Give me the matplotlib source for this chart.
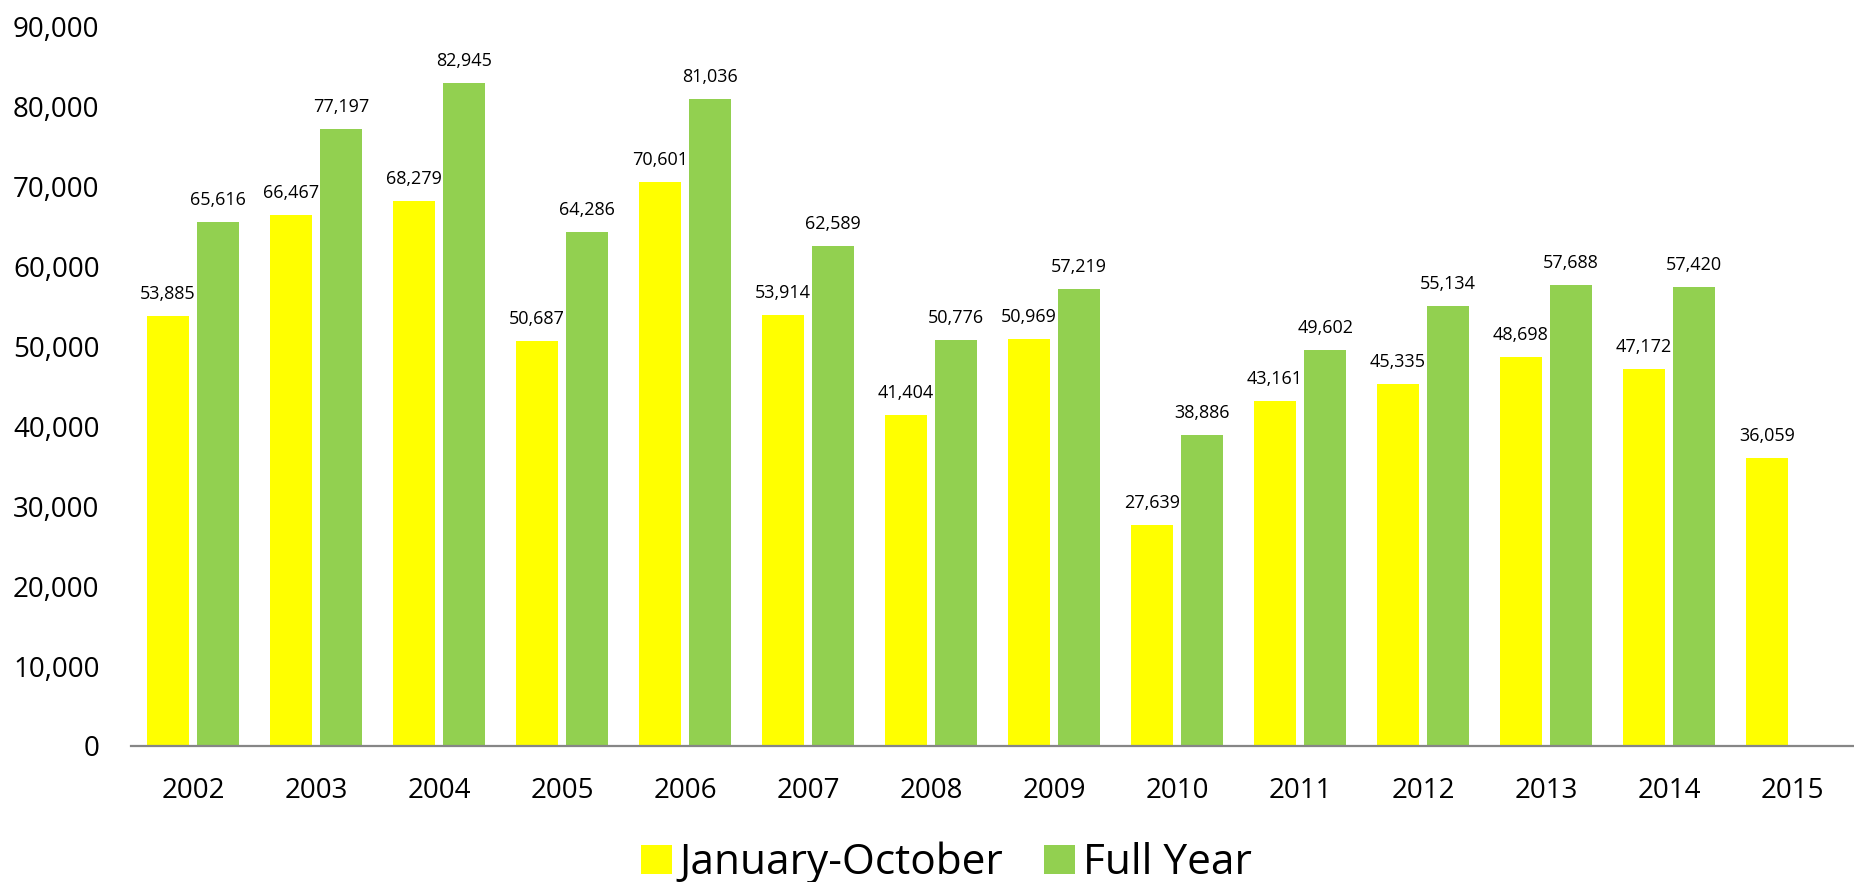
import matplotlib
matplotlib.use("Agg")
import matplotlib.pyplot as plt
import numpy as np

years = ["2002", "2003", "2004", "2005", "2006", "2007", "2008", "2009",
         "2010", "2011", "2012", "2013", "2014", "2015"]
jan_oct = [53885, 66467, 68279, 50687, 70601, 53914, 41404, 50969,
           27639, 43161, 45335, 48698, 47172, 36059]
full_year = [65616, 77197, 82945, 64286, 81036, 62589, 50776, 57219,
             38886, 49602, 55134, 57688, 57420]
y_ticks = [0, 10000, 20000, 30000, 40000, 50000, 60000, 70000, 80000, 90000]

plt.rcParams['font.family'] = ['Open Sans', 'DejaVu Sans']

fig = plt.figure(figsize=(18.54, 8.82), dpi=100)
ax = fig.add_axes([0.0709, 0.1542, 0.9288, 0.8152])

x = np.arange(len(years))
w = 0.34
off = 0.205
yellow = "#FFFF00"
green = "#92D050"

b1 = ax.bar(x - off, jan_oct, width=w, color=yellow, label="January-October")
b2 = ax.bar(x[:len(full_year)] + off, full_year, width=w, color=green, label="Full Year")

for bars, vals in ((b1, jan_oct), (b2, full_year)):
    for rect, v in zip(bars, vals):
        ax.annotate(f"{v:,}", (rect.get_x() + rect.get_width() / 2, v),
                    xytext=(0, 12.2), textcoords="offset points",
                    ha="center", va="baseline", fontsize=13, color="black")

ax.set_xlim(-0.5, len(years) - 0.5)
ax.set_ylim(0, 90000)
ax.set_yticks(y_ticks)
ax.set_yticklabels([f"{t:,}" for t in y_ticks])
ax.set_xticks(x)
ax.set_xticklabels(years)
ax.tick_params(axis='y', length=0, pad=23, labelsize=20)
ax.tick_params(axis='x', length=0, pad=22, labelsize=20)

for s in ("top", "right", "left"):
    ax.spines[s].set_visible(False)
ax.spines["bottom"].set_color("#868686")
ax.spines["bottom"].set_linewidth(1.6)

fig.legend(handles=[b1, b2], loc="center", bbox_to_anchor=(0.5105, 0.0215),
           ncol=2, frameon=False, fontsize=30.5, handlelength=0.71, handleheight=0.66,
           handletextpad=0.19, columnspacing=0.97, borderpad=0)

fig.savefig("out.png", dpi=100)
